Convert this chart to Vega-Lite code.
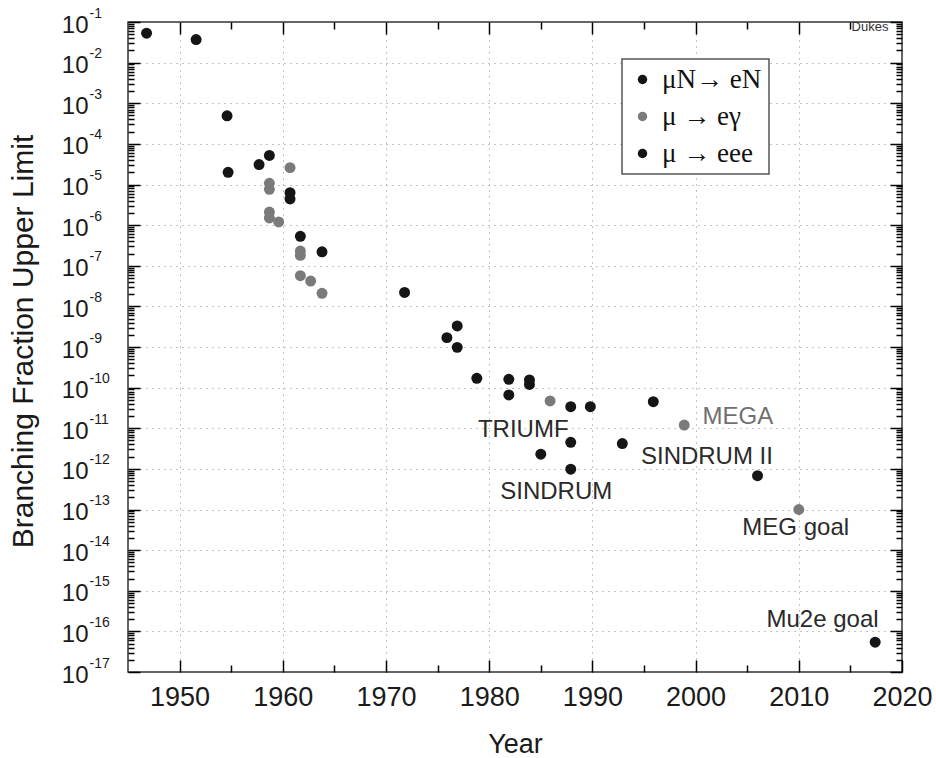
{
  "$schema": "https://vega.github.io/schema/vega-lite/v6.json",
  "width": 774,
  "height": 650,
  "autosize": "none",
  "padding": {"left": 128, "top": 22, "right": 34, "bottom": 86},
  "background": "white",
  "config": {
    "font": "Liberation Sans",
    "view": {"stroke": "#333", "strokeWidth": 1.5},
    "legend": {"strokeWidth": 1.5},
    "axis": {"ticks": true, "tickColor": "black", "tickOpacity": 1, "tickWidth": 1.5, "domain": false, "labelFlush": false, "labelOverlap": false, "zindex": 1}
  },
  "datasets": {
    "points": [
      {"year": 1946.8, "value": 0.053, "process": "μN→ eN"},
      {"year": 1951.6, "value": 0.037, "process": "μN→ eN"},
      {"year": 1954.6, "value": 4.9e-4, "process": "μN→ eN"},
      {"year": 1954.7, "value": 2.0e-5, "process": "μ → eee"},
      {"year": 1957.7, "value": 3.1e-5, "process": "μN→ eN"},
      {"year": 1958.7, "value": 5.2e-5, "process": "μN→ eN"},
      {"year": 1958.7, "value": 1.07e-5, "process": "μ → eγ"},
      {"year": 1958.7, "value": 7.6e-6, "process": "μ → eγ"},
      {"year": 1960.7, "value": 2.6e-5, "process": "μ → eγ"},
      {"year": 1960.7, "value": 6.3e-6, "process": "μN→ eN"},
      {"year": 1960.7, "value": 4.4e-6, "process": "μ → eee"},
      {"year": 1958.7, "value": 2.1e-6, "process": "μ → eγ"},
      {"year": 1958.7, "value": 1.5e-6, "process": "μ → eγ"},
      {"year": 1959.6, "value": 1.2e-6, "process": "μ → eγ"},
      {"year": 1961.7, "value": 5.3e-7, "process": "μ → eee"},
      {"year": 1961.7, "value": 2.3e-7, "process": "μ → eγ"},
      {"year": 1961.7, "value": 1.8e-7, "process": "μ → eγ"},
      {"year": 1963.8, "value": 2.2e-7, "process": "μN→ eN"},
      {"year": 1961.7, "value": 5.7e-8, "process": "μ → eγ"},
      {"year": 1962.7, "value": 4.2e-8, "process": "μ → eγ"},
      {"year": 1963.8, "value": 2.1e-8, "process": "μ → eγ"},
      {"year": 1971.8, "value": 2.2e-8, "process": "μN→ eN"},
      {"year": 1976.9, "value": 3.3e-9, "process": "μN→ eN"},
      {"year": 1975.9, "value": 1.7e-9, "process": "μ → eee"},
      {"year": 1976.9, "value": 9.8e-10, "process": "μ → eee"},
      {"year": 1978.8, "value": 1.7e-10, "process": "μ → eee"},
      {"year": 1981.9, "value": 1.6e-10, "process": "μN→ eN"},
      {"year": 1981.9, "value": 6.6e-11, "process": "μ → eee"},
      {"year": 1983.9, "value": 1.55e-10, "process": "μ → eee"},
      {"year": 1983.9, "value": 1.2e-10, "process": "μ → eee"},
      {"year": 1985.9, "value": 4.7e-11, "process": "μ → eγ"},
      {"year": 1987.9, "value": 3.4e-11, "process": "μ → eee"},
      {"year": 1989.8, "value": 3.4e-11, "process": "μ → eee"},
      {"year": 1995.9, "value": 4.5e-11, "process": "μN→ eN"},
      {"year": 1998.9, "value": 1.2e-11, "process": "μ → eγ"},
      {"year": 1987.9, "value": 4.5e-12, "process": "μN→ eN"},
      {"year": 1985.0, "value": 2.3e-12, "process": "μ → eee"},
      {"year": 1992.9, "value": 4.2e-12, "process": "μN→ eN"},
      {"year": 1987.9, "value": 9.8e-13, "process": "μ → eee"},
      {"year": 2006.0, "value": 6.8e-13, "process": "μN→ eN"},
      {"year": 2010.0, "value": 1.0e-13, "process": "μ → eγ"},
      {"year": 2017.4, "value": 5.4e-17, "process": "μN→ eN"}
    ],
    "labels": [
      {"label": "TRIUMF", "year": 1983.3, "value": 9.1e-12},
      {"label": "SINDRUM", "year": 1986.5, "value": 2.7e-13},
      {"label": "SINDRUM II", "year": 2001.1, "value": 1.95e-12},
      {"label": "MEGA", "year": 2004.1, "value": 1.9e-11},
      {"label": "MEG goal", "year": 2009.7, "value": 3.5e-14},
      {"label": "Mu2e goal", "year": 2012.3, "value": 1.9e-16}
    ],
    "corner": [
      {"label": "Dukes", "year": 2016.9, "value": 0.075}
    ]
  },
  "resolve": {"axis": {"x": "independent", "y": "independent"}},
  "layer": [
    {
      "data": {"name": "points"},
      "mark": {"type": "circle", "size": 120, "opacity": 1},
      "encoding": {
        "x": {
          "field": "year",
          "type": "quantitative",
          "scale": {"domain": [1945, 2020], "nice": false, "zero": false},
          "axis": {
            "orient": "bottom",
            "offset": -12,
            "values": [1950, 1960, 1970, 1980, 1990, 2000, 2010, 2020],
            "format": "d",
            "labelFontSize": 27,
            "labelColor": "#1a1a1a",
            "labelPadding": 12,
            "ticks": true,
            "tickSize": 12,
            "grid": true,
            "gridColor": "#888",
            "gridDash": [1, 5],
            "gridWidth": 1,
            "gridOpacity": {"condition": {"test": "datum.value < 2020", "value": 1}, "value": 0},
            "title": "Year",
            "titleFontSize": 27,
            "titleFontWeight": "normal",
            "titleColor": "#1a1a1a",
            "titleBaseline": "alphabetic",
            "titleY": 92
          }
        },
        "y": {
          "field": "value",
          "type": "quantitative",
          "scale": {"type": "log", "domain": [1e-17, 0.1], "nice": false},
          "axis": {
            "orient": "left",
            "offset": -12,
            "values": [1e-17,1e-16,1e-15,1e-14,1e-13,1e-12,1e-11,1e-10,1e-9,1e-8,1e-7,1e-6,1e-5,1e-4,1e-3,1e-2,1e-1],
            "labelExpr": "'10'",
            "labelFontSize": 24,
            "labelColor": "#1a1a1a",
            "labelBaseline": "middle",
            "labelPadding": 40,
            "labelOffset": 3,
            "ticks": true,
            "tickSize": 12,
            "grid": true,
            "gridColor": "#888",
            "gridDash": [1, 5],
            "gridWidth": 1,
            "gridOpacity": {"condition": {"test": "datum.value > 2e-17 && datum.value < 0.05", "value": 1}, "value": 0},
            "title": "Branching Fraction Upper Limit",
            "titleFontSize": 30,
            "titleFontWeight": "normal",
            "titleColor": "#1a1a1a",
            "titleBaseline": "alphabetic",
            "titleX": -108,
            "titleY": 319
          }
        },
        "color": {
          "field": "process",
          "type": "nominal",
          "scale": {"domain": ["μN→ eN", "μ → eγ", "μ → eee"], "range": ["#151515", "#7a7a7a", "#151515"]},
          "legend": {
            "orient": "none",
            "legendX": 494,
            "legendY": 37,
            "title": null,
            "direction": "vertical",
            "labelFont": "Liberation Serif",
            "labelFontSize": 27,
            "labelColor": "#111",
            "labelOffset": 6,
            "symbolType": "circle",
            "symbolSize": 90,
            "symbolStrokeWidth": 0,
            "padding": 7,
            "rowPadding": 9,
            "strokeColor": "#555",
            "fillColor": "white"
          }
        }
      }
    },
    {
      "data": {"name": "labels"},
      "transform": [{"filter": "datum.label === 'TRIUMF' || datum.label === 'SINDRUM'"}],
      "mark": {"type": "text", "fontSize": 24, "align": "center", "baseline": "middle", "color": "#2a2a2a"},
      "encoding": {
        "x": {
          "field": "year",
          "type": "quantitative",
          "axis": {"orient": "top", "offset": -12, "values": [1950, 1960, 1970, 1980, 1990, 2000, 2010], "labels": false, "grid": false, "title": null, "ticks": true, "tickSize": 12}
        },
        "y": {
          "field": "value",
          "type": "quantitative",
          "axis": {"orient": "right", "offset": -12, "values": [1e-17,1e-16,1e-15,1e-14,1e-13,1e-12,1e-11,1e-10,1e-9,1e-8,1e-7,1e-6,1e-5,1e-4,1e-3,1e-2,1e-1], "labels": false, "grid": false, "title": null, "ticks": true, "tickSize": 12}
        },
        "text": {"field": "label", "type": "nominal"}
      }
    },
    {
      "data": {"name": "labels"},
      "transform": [{"filter": "datum.label === 'SINDRUM II' || datum.label === 'MEG goal' || datum.label === 'Mu2e goal'"}],
      "mark": {"type": "text", "fontSize": 24, "align": "center", "baseline": "middle", "color": "#2a2a2a"},
      "encoding": {
        "x": {
          "field": "year",
          "type": "quantitative",
          "axis": {"orient": "bottom", "offset": -7, "values": [1955, 1965, 1975, 1985, 1995, 2005, 2015], "labels": false, "grid": false, "title": null, "ticks": true, "tickSize": 7}
        },
        "y": {
          "field": "value",
          "type": "quantitative",
          "axis": {"orient": "left", "offset": -6, "values": [2e-17,3e-17,4e-17,5e-17,6e-17,7e-17,8e-17,9e-17,2e-16,3e-16,4e-16,5e-16,6e-16,7e-16,8e-16,9e-16,2e-15,3e-15,4e-15,5e-15,6e-15,7e-15,8e-15,9e-15,2e-14,3e-14,4e-14,5e-14,6e-14,7e-14,8e-14,9e-14,2e-13,3e-13,4e-13,5e-13,6e-13,7e-13,8e-13,9e-13,2e-12,3e-12,4e-12,5e-12,6e-12,7e-12,8e-12,9e-12,2e-11,3e-11,4e-11,5e-11,6e-11,7e-11,8e-11,9e-11,2e-10,3e-10,4e-10,5e-10,6e-10,7e-10,8e-10,9e-10,2e-9,3e-9,4e-9,5e-9,6e-9,7e-9,8e-9,9e-9,2e-8,3e-8,4e-8,5e-8,6e-8,7e-8,8e-8,9e-8,2e-7,3e-7,4e-7,5e-7,6e-7,7e-7,8e-7,9e-7,2e-6,3e-6,4e-6,5e-6,6e-6,7e-6,8e-6,9e-6,2e-5,3e-5,4e-5,5e-5,6e-5,7e-5,8e-5,9e-5,2e-4,3e-4,4e-4,5e-4,6e-4,7e-4,8e-4,9e-4,2e-3,3e-3,4e-3,5e-3,6e-3,7e-3,8e-3,9e-3,2e-2,3e-2,4e-2,5e-2,6e-2,7e-2,8e-2,9e-2], "labels": false, "grid": false, "title": null, "ticks": true, "tickSize": 6}
        },
        "text": {"field": "label", "type": "nominal"}
      }
    },
    {
      "data": {"name": "labels"},
      "transform": [{"filter": "datum.label === 'MEGA'"}],
      "mark": {"type": "text", "fontSize": 24, "align": "center", "baseline": "middle", "color": "#707070"},
      "encoding": {
        "x": {
          "field": "year",
          "type": "quantitative",
          "axis": {"orient": "top", "offset": -7, "values": [1955, 1965, 1975, 1985, 1995, 2005, 2015], "labels": false, "grid": false, "title": null, "ticks": true, "tickSize": 7}
        },
        "y": {
          "field": "value",
          "type": "quantitative",
          "axis": {"orient": "right", "offset": -6, "values": [2e-17,3e-17,4e-17,5e-17,6e-17,7e-17,8e-17,9e-17,2e-16,3e-16,4e-16,5e-16,6e-16,7e-16,8e-16,9e-16,2e-15,3e-15,4e-15,5e-15,6e-15,7e-15,8e-15,9e-15,2e-14,3e-14,4e-14,5e-14,6e-14,7e-14,8e-14,9e-14,2e-13,3e-13,4e-13,5e-13,6e-13,7e-13,8e-13,9e-13,2e-12,3e-12,4e-12,5e-12,6e-12,7e-12,8e-12,9e-12,2e-11,3e-11,4e-11,5e-11,6e-11,7e-11,8e-11,9e-11,2e-10,3e-10,4e-10,5e-10,6e-10,7e-10,8e-10,9e-10,2e-9,3e-9,4e-9,5e-9,6e-9,7e-9,8e-9,9e-9,2e-8,3e-8,4e-8,5e-8,6e-8,7e-8,8e-8,9e-8,2e-7,3e-7,4e-7,5e-7,6e-7,7e-7,8e-7,9e-7,2e-6,3e-6,4e-6,5e-6,6e-6,7e-6,8e-6,9e-6,2e-5,3e-5,4e-5,5e-5,6e-5,7e-5,8e-5,9e-5,2e-4,3e-4,4e-4,5e-4,6e-4,7e-4,8e-4,9e-4,2e-3,3e-3,4e-3,5e-3,6e-3,7e-3,8e-3,9e-3,2e-2,3e-2,4e-2,5e-2,6e-2,7e-2,8e-2,9e-2], "labels": false, "grid": false, "title": null, "ticks": true, "tickSize": 6}
        },
        "text": {"field": "label", "type": "nominal"}
      }
    },
    {
      "data": {"name": "corner"},
      "mark": {"type": "text", "fontSize": 13, "align": "center", "baseline": "middle", "color": "#333"},
      "encoding": {
        "x": {"field": "year", "type": "quantitative", "axis": null},
        "y": {
          "field": "value",
          "type": "quantitative",
          "axis": {
            "orient": "left",
            "values": [1e-17,1e-16,1e-15,1e-14,1e-13,1e-12,1e-11,1e-10,1e-9,1e-8,1e-7,1e-6,1e-5,1e-4,1e-3,1e-2,1e-1],
            "labelExpr": "'-' + toString(-round(log(datum.value)/LN10))",
            "labelFontSize": 14,
            "labelColor": "#1a1a1a",
            "labelAlign": "left",
            "labelBaseline": "middle",
            "labelPadding": 39,
            "labelOffset": -9,
            "ticks": false,
            "grid": false,
            "title": null
          }
        },
        "text": {"field": "label", "type": "nominal"}
      }
    }
  ]
}
